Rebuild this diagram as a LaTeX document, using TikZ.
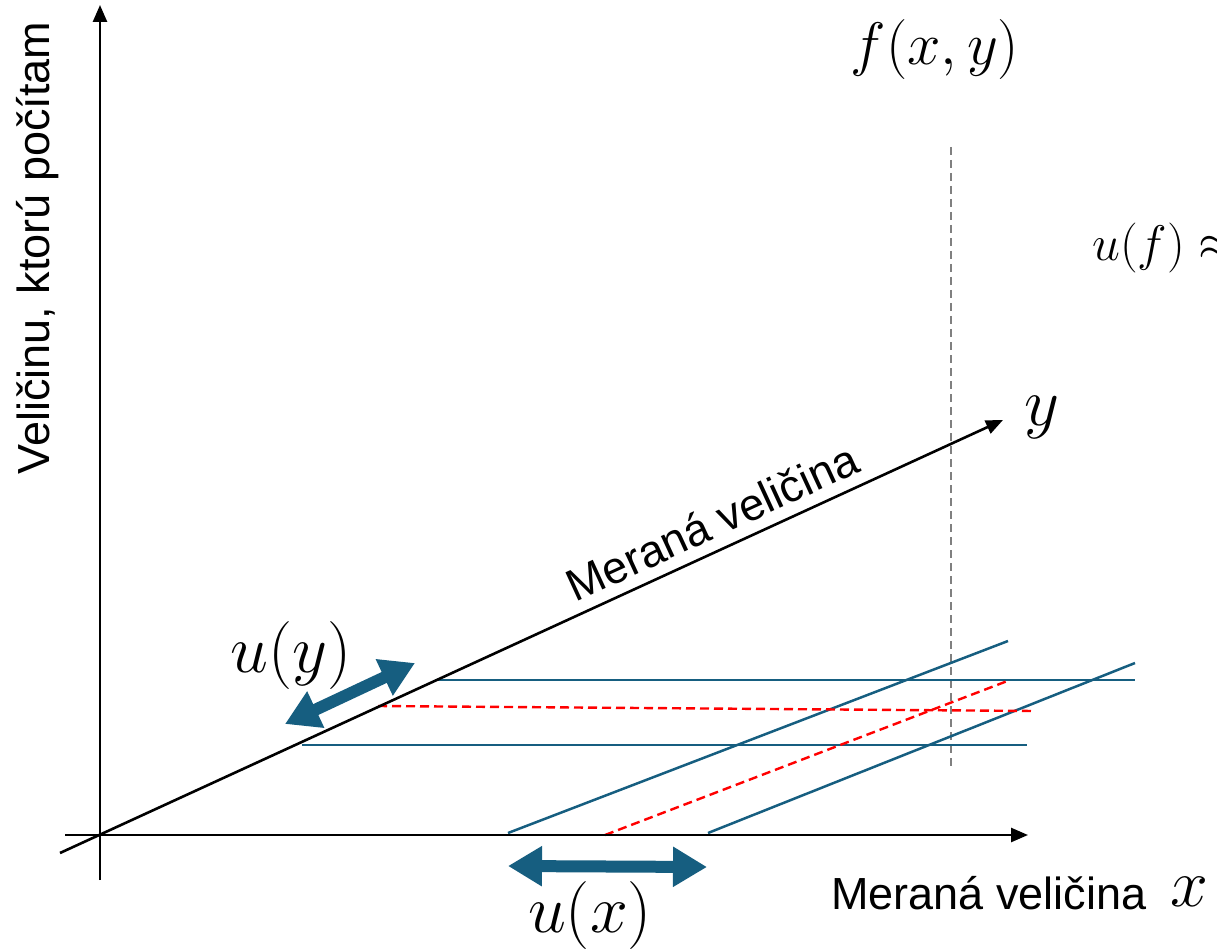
\RequirePackage{fix-cm}
\documentclass[tikz,border=0pt]{standalone}
\usepackage{fontspec}
\setsansfont{Liberation Sans}
\usepackage{amsmath}
\usetikzlibrary{arrows.meta, positioning, calc}
\definecolor{BandBlue}{RGB}{22, 94, 128}
\definecolor{CutRed}{RGB}{255, 0, 0}
\definecolor{GuideGray}{RGB}{128, 128, 128}

\tikzset{
  axis/.style={line width=2.6pt, -{Triangle[length=17pt, width=14pt]}},
  band/.style={line width=2.5pt, BandBlue},
  cut/.style={line width=2.4pt, CutRed, dash pattern=on 9pt off 5pt},
  guide/.style={line width=2.2pt, GuideGray, dash pattern=on 8pt off 5pt},
  spread/.style={line width=12pt, BandBlue,
    {Triangle[length=34pt, width=38pt]}-{Triangle[length=34pt, width=38pt]}},
  word/.style={inner sep=0pt, font=\sffamily\fontsize{45}{54}\selectfont},
  sym/.style={inner sep=0pt, font=\fontsize{68}{80}\selectfont},
}

\begin{document}
\begin{tikzpicture}[x=1pt, y=-1pt]
\useasboundingbox (0,0) rectangle (1217,949);
\clip (0,0) rectangle (1217,949);

% axes
\coordinate (vbot) at (100,880);
\coordinate (vtop) at (100,5);
\coordinate (hbeg) at (65,835);
\coordinate (hend) at (1028,835);
\coordinate (obeg) at (60,853);
\coordinate (oend) at (1003,420);

% uncertainty bands
\coordinate (ytop1) at (435,680);   \coordinate (ytop2) at (1135,680);
\coordinate (ybot1) at (302,745);   \coordinate (ybot2) at (1027,745);
\coordinate (xlft1) at (508,833);   \coordinate (xlft2) at (1008,641);
\coordinate (xrgt1) at (708,833);   \coordinate (xrgt2) at (1135,663);
\coordinate (ymid1) at (378,706);   \coordinate (ymid2) at (1035,711);
\coordinate (xmid1) at (605,835);   \coordinate (xmid2) at (1010,680);
\coordinate (gtop) at (951,147);    \coordinate (gbot) at (951,770);

\draw[guide] (gtop) -- (gbot);
\draw[band] (ytop1) -- (ytop2);
\draw[band] (ybot1) -- (ybot2);
\draw[band] (xlft1) -- (xlft2);
\draw[band] (xrgt1) -- (xrgt2);
\draw[cut] (ymid1) -- (ymid2);
\draw[cut] (xmid1) -- (xmid2);

\draw[axis] (vbot) -- (vtop);
\draw[axis] (hbeg) -- (hend);
\draw[axis] (obeg) -- (oend);

% spreads
\coordinate (uy1) at (285,724);  \coordinate (uy2) at (415,663);
\coordinate (ux1) at (508,866);  \coordinate (ux2) at (707,867);
\draw[spread] (uy1) -- (uy2);
\draw[spread] (ux1) -- (ux2);

% labels
\node[word, rotate=90] (vlabel) at (38,248) {Veličinu, ktorú počítam};
\node[word, rotate=24.7] (olabel) at (712,522) {Meraná veličina};
\node[word] (hlabel) at (989,893) {Meraná veličina};
\node[sym] (xsym) at (1189,892) {$x$};
\node[sym] (ysym) at (1042,417) {$y$};
\node[sym, font=\fontsize{60}{72}\selectfont] (fxy) at (935,50) {$f(x,y)$};
\node[sym] (uylab) at (291,655) {$u(y)$};
\node[sym] (uxlab) at (590,915) {$u(x)$};
\node[inner sep=0pt, anchor=west, font=\fontsize{50}{60}\selectfont] (uf) at (1092,248) {$u(f)\approx$};
\end{tikzpicture}
\end{document}
